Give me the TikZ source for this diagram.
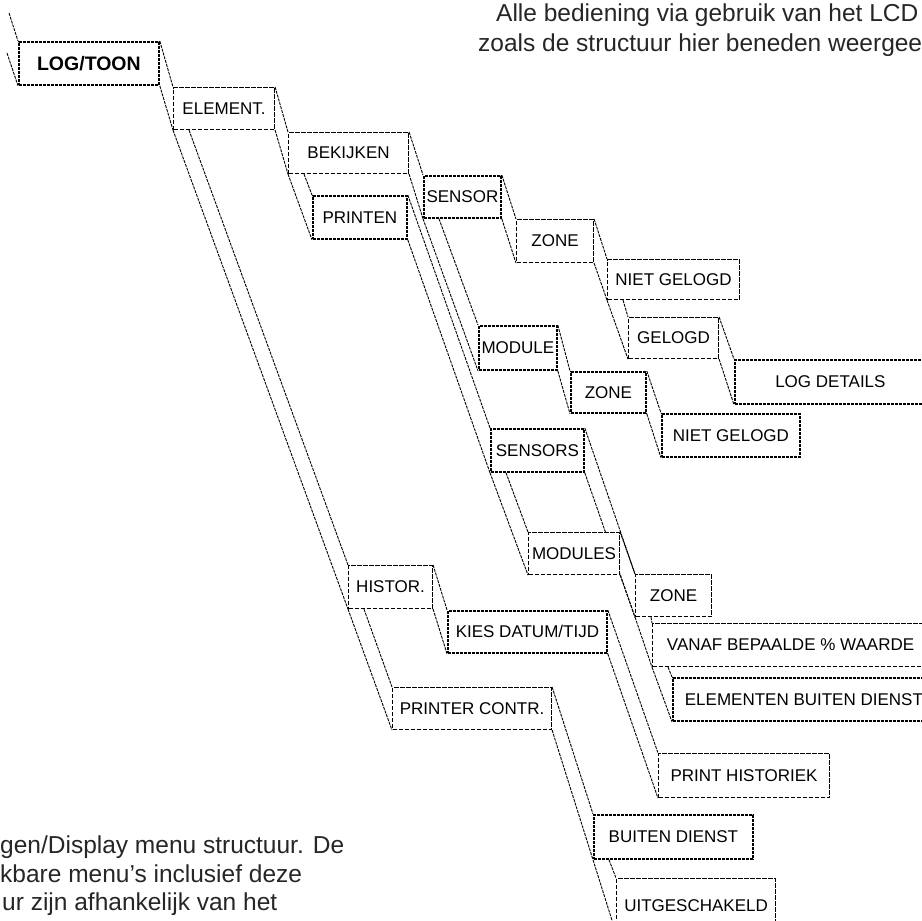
\documentclass[tikz,border=0pt]{standalone}
\usepackage{fontspec}
\setmainfont{Liberation Sans}
\usetikzlibrary{backgrounds}

\tikzset{
    knop/.style={draw, fill=white, anchor=north west, inner sep=0pt,
        minimum height=43pt, line width=1.1pt, dash pattern=on 4.5pt off 1.5pt,
        font=\fontsize{17}{20}\selectfont},
    knopzwaar/.style={knop, line width=1.8pt, dash pattern=on 3pt off 1pt},
    lijn/.style={line width=0.9pt, dash pattern=on 3pt off 1pt},
    tekst/.style={anchor=base west, inner sep=0pt,
        font=\fontsize{24.5}{29}\selectfont, text=black!85}
}

\begin{document}
\begin{tikzpicture}[x=1pt, y=-1pt]
    \useasboundingbox (0,0) rectangle (922,921);
    \clip (0,0) rectangle (922,921);

    % Tekst rond het menu
    \node[tekst] (intro1) at (496,21.5) {Alle bediening via gebruik van het LCD};
    \node[tekst] (intro2) at (478,51.5) {zoals de structuur hier beneden weergee};
    \node[tekst] (uitleg1) at (0,853) {gen/Display menu structuur. De};
    \node[tekst] (uitleg2) at (0,882) {kbare menu’s inclusief deze};
    \node[tekst] (uitleg3) at (2,910) {ur zijn afhankelijk van het};

    % Menu knoppen
    \node[knopzwaar, minimum width=140pt, font=\fontsize{19.5}{22}\selectfont\bfseries] (log) at (18,41) {LOG/TOON};
    \node[knop, minimum width=101pt, minimum height=42pt] (elem) at (173,87) {ELEMENT.};
    \node[knop, minimum width=120pt, minimum height=41pt] (bek) at (288,132) {BEKIJKEN};
    \node[knopzwaar, minimum width=94pt] (prn) at (312,195) {PRINTEN};
    \node[knopzwaar, minimum width=77pt, minimum height=42pt] (sens) at (423,175) {SENSOR};
    \node[knop, minimum width=77pt] (zone1) at (516,219) {ZONE};
    \node[knop, minimum width=132pt, minimum height=40pt] (niet1) at (607,259) {NIET GELOGD};
    \node[knop, minimum width=90pt, minimum height=41pt] (gel) at (628,317) {GELOGD};
    \node[knopzwaar, minimum width=191pt, minimum height=44pt] (logd) at (734,359) {LOG DETAILS};
    \node[knopzwaar, minimum width=78pt, minimum height=44pt] (mod) at (478,325) {MODULE};
    \node[knopzwaar, minimum width=75pt, minimum height=41pt] (zone2) at (570,371) {ZONE};
    \node[knopzwaar, minimum width=138pt] (niet2) at (661,413) {NIET GELOGD};
    \node[knopzwaar, minimum width=93pt] (senss) at (490,428) {SENSORS};
    \node[knop, minimum width=91pt, minimum height=42pt] (mods) at (528,532) {MODULES};
    \node[knop, minimum width=76pt, minimum height=42pt] (zone3) at (635,574) {ZONE};
    \node[knop, minimum width=276pt] (vanaf) at (652,623) {VANAF BEPAALDE \% WAARDE};
    \node[knopzwaar, minimum width=262pt] (elbd) at (672,677) {ELEMENTEN BUITEN DIENST};
    \node[knop, minimum width=84pt] (hist) at (348,565) {HISTOR.};
    \node[knopzwaar, minimum width=159pt, minimum height=42pt] (kies) at (447,610) {KIES DATUM/TIJD};
    \node[knop, minimum width=159pt, minimum height=42pt] (prc) at (392,687) {PRINTER CONTR.};
    \node[knop, minimum width=171pt, minimum height=44pt] (prh) at (658,753) {PRINT HISTORIEK};
    \node[knopzwaar, minimum width=159pt, minimum height=44pt] (bdi) at (593,814) {BUITEN DIENST};
    \node[knop, minimum width=159pt, minimum height=54pt] (uitg) at (616,878) {UITGESCHAKELD};

    \coordinate (boven1) at (9,13);
    \coordinate (boven2) at (7,53);

    % Verbindingen achter de knoppen
    \begin{scope}[on background layer]
        \draw[lijn] (boven1) -- (log.north west) (boven2) -- (log.south west);
        \draw[lijn] (log.north east) -- (elem.north west) (log.south east) -- (elem.south west);
        \draw[lijn] (elem.north east) -- (bek.north west) (elem.south east) -- (bek.south west);
        \draw[lijn] (bek.north east) -- (sens.north west) (bek.south east) -- (sens.south west);
        \draw[lijn] (sens.north east) -- (zone1.north west) (sens.south east) -- (zone1.south west);
        \draw[lijn] (zone1.north east) -- (niet1.north west) (zone1.south east) -- (niet1.south west);
        \draw[lijn] (gel.north east) -- (logd.north west) (gel.south east) -- (logd.south west);
        \draw[lijn] (mod.north east) -- (zone2.north west) (mod.south east) -- (zone2.south west);
        \draw[lijn] (zone2.north east) -- (niet2.north west) (zone2.south east) -- (niet2.south west);
        \draw[lijn] (prn.north east) -- (senss.north west) (prn.south east) -- (senss.south west);
        \draw[lijn] (senss.north east) -- (zone3.north west) (senss.south east) -- (zone3.south west);
        \draw[lijn] (mods.north east) -- (zone3.north west) (mods.south east) -- (zone3.south west);
        \draw[lijn] (hist.north east) -- (kies.north west) (hist.south east) -- (kies.south west);
        \draw[lijn] (kies.north east) -- (prh.north west) (kies.south east) -- (prh.south west);
        \draw[lijn] (prc.north east) -- (bdi.north west) (prc.south east) -- (bdi.south west);

        % naar de volgende knop in dezelfde lijst
        \draw[lijn] (elem.south west) -- (hist.south west) ([xshift=16pt]elem.south west) -- (hist.north west);
        \draw[lijn] (hist.south west) -- (prc.south west) ([xshift=16pt]hist.south west) -- (prc.north west);
        \draw[lijn] (bek.south west) -- (prn.south west) ([xshift=16pt]bek.south west) -- (prn.north west);
        \draw[lijn] (sens.south west) -- (mod.south west) ([xshift=16pt]sens.south west) -- (mod.north west);
        \draw[lijn] (niet1.south west) -- (gel.south west) ([xshift=16pt]niet1.south west) -- (gel.north west);
        \draw[lijn] (senss.south west) -- (mods.south west) ([xshift=16pt]senss.south west) -- (mods.north west);
        \draw[lijn] (zone3.south west) -- (vanaf.south west) ([xshift=16pt]zone3.south west) -- (vanaf.north west);
        \draw[lijn] (vanaf.south west) -- (elbd.south west) ([xshift=16pt]vanaf.south west) -- (elbd.north west);
        \draw[lijn] (bdi.south west) -- (uitg.south west) ([xshift=16pt]bdi.south west) -- (uitg.north west);
    \end{scope}
\end{tikzpicture}
\end{document}
